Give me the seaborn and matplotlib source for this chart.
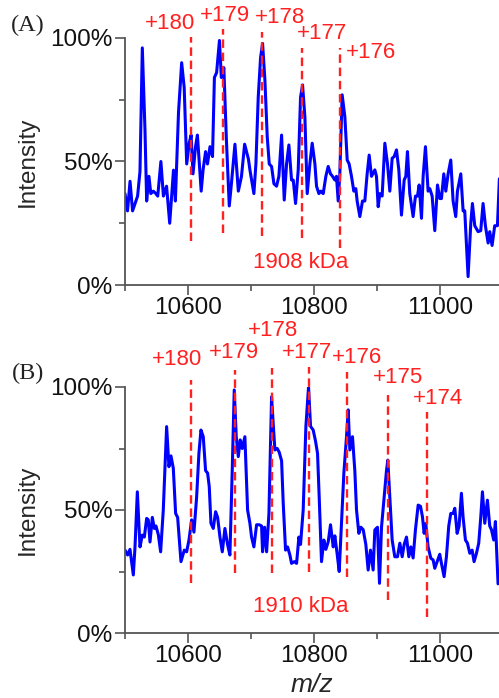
import numpy as np
import pandas as pd
import matplotlib
matplotlib.use("Agg")
import matplotlib.pyplot as plt
import seaborn as sns
from matplotlib.ticker import MultipleLocator, FuncFormatter

# ---------------- data ----------------
mz_a = [10500, 10504, 10508, 10512, 10516, 10520, 10523.8, 10527.5, 10531.7, 10534.4,
        10538, 10541, 10545, 10549, 10552, 10557, 10561, 10566, 10571, 10577,
        10580, 10585, 10590, 10594, 10598, 10602, 10605, 10608, 10612, 10615,
        10621, 10624, 10628, 10631, 10635, 10639, 10642, 10645.5, 10650, 10653,
        10657, 10661, 10665.6, 10669, 10674.6, 10680, 10685, 10690, 10696,
        10698.4, 10704.7, 10707.9, 10711.6, 10715.3, 10718.5, 10722.2, 10725.9, 10729.1,
        10732.8, 10736.5, 10740.7, 10744.4, 10748.7, 10752.9, 10756.6, 10760.3, 10764.5,
        10767.2, 10770.9, 10775.1, 10778.8, 10782.0, 10785.7, 10789.4, 10793.6, 10797.3,
        10801.6, 10804.2, 10807.9, 10811.1, 10814.8, 10819.0, 10822.7, 10826.4, 10829.6,
        10833.3, 10835.9, 10838.6, 10841.2, 10844.9, 10849.2, 10852.9, 10856.0, 10859.7,
        10863.4, 10866.6, 10868.7, 10873.0, 10877.2, 10880.9, 10884.6, 10887.8, 10891.5,
        10896.8, 10899.4, 10902.1, 10904.7, 10908.4, 10912.7, 10916.9, 10920.6, 10924.3,
        10927.5, 10931.2, 10934.9, 10939.1, 10943.4, 10946.0, 10948.6, 10952.3, 10957.6,
        10961.3, 10964.5, 10967.2, 10970.9, 10973.5, 10977.2, 10981.4, 10984.1, 10987.8,
        10992.0, 10996.3, 11000.0, 11002.6, 11006.3, 11009.5, 11013.2, 11017.4, 11021.1,
        11025.3, 11028.0, 11033.3, 11037.0, 11039.6, 11044.9, 11049.2, 11051.8, 11055.5,
        11060.8, 11065.0, 11068.7, 11072.4, 11076.7, 11079.3, 11083.0, 11087.2, 11091.5,
        11094.6]
int_a = [37, 30, 42, 30, 33, 36, 46, 96, 63, 34,
         44, 37, 38, 37, 36, 50, 36, 40, 25, 46.5,
         34, 70, 90, 80, 49, 57.5, 60.7, 45, 56, 60.7,
         38, 46.6, 54, 49, 56, 52, 84, 86, 99, 84,
         88, 59, 32, 41, 57, 38, 44, 57, 51,
         46.6, 37, 49, 76, 92, 97.8, 83, 60, 49,
         48, 41, 40, 44, 60.7, 34.4, 49, 56.7, 42.5,
         42.5, 33, 46.6, 76, 81, 68, 37, 49, 57.4,
         49, 40, 37, 38, 37, 44, 48, 45, 44,
         42.5, 44, 34, 45, 77, 68, 50.6, 49, 44,
         38, 39, 34, 27.7, 34, 34, 45, 52.6, 44,
         46.6, 44, 31.7, 37, 36, 57.4, 49, 38, 51.3,
         52, 54.7, 46.6, 28.3, 42.5, 44, 54, 37, 27.7,
         36, 36, 40.5, 27, 44, 56, 38, 39, 36,
         22, 40.5, 35, 35, 45, 38, 45, 50.6, 34,
         27.7, 38, 45, 30, 30, 3.4, 25, 33, 24,
         21.6, 22, 33, 24, 17, 21.6, 16, 24, 24,
         43]

mz_b = [10500, 10504.2, 10507.9, 10513.2, 10515.9, 10519.6, 10523.8, 10527.5, 10530.7, 10534.4,
        10537.0, 10539.7, 10543.4, 10546.6, 10549.2, 10552.9, 10556.6, 10560.8, 10566.1, 10569.8,
        10573.0, 10576.7, 10580.4, 10583.6, 10588.9, 10594.2, 10597.9, 10601.6, 10605.8, 10609.5,
        10613.7, 10617.4, 10620.6, 10624.3, 10628.0, 10631.2, 10633.8, 10636.5, 10640.2, 10643.9,
        10647.1, 10650.8, 10654.5, 10658.7, 10662.9, 10666.6, 10670.3, 10673.5, 10676.7, 10679.9,
        10683.0, 10686.2, 10690.4, 10694.7,
        10698.4, 10701.0, 10704.7, 10709.0, 10713.2, 10716.9, 10718.5, 10721.7, 10724.9, 10728.6,
        10732.8, 10735.4, 10738.1, 10741.8, 10744.9, 10748.7, 10751.3, 10755.0, 10758.2, 10761.9,
        10764.5, 10768.8, 10772.5, 10776.2, 10778.8, 10783.0, 10787.3, 10791.5, 10794.7, 10798.9,
        10802.6, 10805.8, 10808.4, 10812.1, 10815.8, 10819.0, 10822.7, 10826.4, 10830.7, 10833.3,
        10837.0, 10840.2, 10843.9, 10847.6, 10851.8, 10854.5, 10857.1, 10861.3, 10865.0, 10867.7,
        10871.4, 10874.6, 10878.3, 10882.5, 10886.2, 10889.9, 10894.1,
        10896.8, 10901.0, 10904.2, 10907.4, 10911.6, 10915.3, 10917.4, 10920.6, 10924.3, 10928.5,
        10932.8, 10936.5, 10940.2, 10943.4, 10947.1, 10950.8, 10954.0, 10957.6, 10961.3, 10965.6,
        10969.3, 10972.4, 10975.1, 10977.7, 10981.4, 10985.7, 10989.4, 10992.0, 10995.7, 10999.9,
        11002.6, 11006.8, 11010.5, 11014.2, 11017.4, 11021.1, 11023.8, 11027.5, 11030.6, 11034.3,
        11037.0, 11040.7, 11043.9, 11047.6, 11051.3, 11054.4, 11058.2, 11061.8, 11065.0, 11067.7,
        11071.4, 11075.6, 11079.3, 11082.0, 11085.6, 11088.3, 11092.5]
int_b = [33.7, 31.7, 34, 23.6, 35, 57.4, 35, 39.8, 39, 46.6,
         46, 37, 47, 42.5, 43.5, 40, 33, 50, 83.9, 67.6,
         72, 67, 48.6, 47, 29, 33.7, 33, 37.8, 46, 41,
         55, 73, 82.5, 79.8, 66, 65, 59.5, 44.6, 42.5, 49.3,
         47, 39, 33, 42.5, 36, 31.7, 66, 98.8, 79.8, 71.7,
         78.5, 75, 79.8, 50,
         44.6, 39, 35, 44, 44, 43.5, 33, 43, 33, 48.6,
         96, 85, 74.4, 75, 73.5, 70, 52.7, 33.7, 35, 31.7,
         28.3, 29, 28.3, 39, 36, 50, 84, 100, 84, 82.5,
         78, 73, 55.4, 29, 37.8, 34, 37, 44, 35, 39.5,
         32, 25, 44.6, 65, 79.8, 90.7, 74.4, 79.8, 66, 50,
         40.5, 43, 42, 36, 25.6, 33.7, 25.6,
         41.9, 43, 20.2, 43, 55.4, 66, 70.3, 55.4, 37.8, 31,
         31, 36.5, 31, 36, 39, 31, 35, 30.5, 42, 52,
         51.5, 47.3, 40.5, 44.5, 35, 30.4, 29.7, 26.3, 29, 32,
         28.3, 22.9, 31, 43.5, 48.6, 48.6, 50.7, 40.5, 43.5, 56.8,
         47, 37.8, 36.5, 32.4, 33.7, 29, 32.4, 36.5, 47, 57.4,
         44.6, 54, 43.5, 42, 37.8, 45.3, 20]

# charge-state annotations
charges_a = ["+180", "+179", "+178", "+177", "+176"]
lines_a = [10605, 10655, 10718, 10781, 10842]
line_lo_a = [18, 21, 20, 19, 15]
line_hi_a = [100.4, 103.6, 102.4, 96, 96]
label_x_a = [10571, 10659, 10746, 10813, 10890]
label_y_a = [106, 109, 108.5, 102, 94]
mass_a = "1908 kDa"

charges_b = ["+180", "+179", "+178", "+177", "+176", "+175", "+174"]
lines_b = [10605, 10675, 10734, 10793, 10853, 10917, 10979]
line_lo_b = [20.3, 24.4, 24.4, 24.8, 22.8, 13.4, 6.5]
line_hi_b = [102.8, 107, 107.7, 108, 106, 96.7, 89.8]
label_x_b = [10582, 10673, 10735, 10789, 10869, 10933, 10997]
label_y_b = [111, 114, 123, 114, 112, 103.7, 95.5]
mass_b = "1910 kDa"

panel_labels = ["(A)", "(B)"]
xticks = [10600, 10800, 11000]
yticks = [0, 50, 100]

# ---------------- plotting ----------------
sns.set_style("ticks")
plt.rcParams["font.family"] = ["Liberation Sans", "DejaVu Sans"]

fig = plt.figure(figsize=(4.99, 6.98), dpi=100)
W, H = 499, 698
x0 = 125 / W
ax_a = fig.add_axes([x0, 1 - 285 / H, 1 - x0, (285 - 38) / H])
ax_b = fig.add_axes([x0, 1 - 633 / H, 1 - x0, (633 - 387) / H])

red = "#FF2020"
panels = [
    (ax_a, mz_a, int_a, charges_a, lines_a, line_lo_a, line_hi_a, label_x_a, label_y_a, mass_a, 9.3),
    (ax_b, mz_b, int_b, charges_b, lines_b, line_lo_b, line_hi_b, label_x_b, label_y_b, mass_b, 10.6),
]
for i, (ax, mz, inten, ch, lx, lo, hi, tx, ty, mass, my) in enumerate(panels):
    df = pd.DataFrame({"mz": mz, "intensity": inten})
    sns.lineplot(data=df, x="mz", y="intensity", ax=ax, color="#0000FF",
                 linewidth=2.2, sort=False, estimator=None, solid_joinstyle="round")
    for xv, l, h in zip(lx, lo, hi):
        ax.plot([xv, xv], [l, h], color=red, lw=1.7, dashes=(3.6, 2.0),
                clip_on=False, zorder=3)
    for t, xv, yv in zip(ch, tx, ty):
        ax.text(xv, yv, t, color=red, fontsize=16, ha="center", va="center",
                clip_on=False)
    ax.text(10779, my, mass, color=red, fontsize=16, ha="center", va="center")

    ax.set_xlim(10500, 11094)
    ax.set_ylim(0, 100)
    ax.set_xticks(xticks)
    ax.xaxis.set_minor_locator(MultipleLocator(100))
    ax.set_yticks(yticks)
    ax.yaxis.set_minor_locator(MultipleLocator(25))
    ax.yaxis.set_major_formatter(FuncFormatter(lambda v, p: f"{int(v)}%"))
    ax.tick_params(axis="both", which="major", length=7, width=1.2, color="#555555",
                   labelsize=17.5, pad=2, labelcolor="#111111")
    ax.tick_params(axis="both", which="minor", length=4, width=1.2, color="#555555")
    for s in ["top", "right"]:
        ax.spines[s].set_visible(False)
    for s in ["left", "bottom"]:
        ax.spines[s].set_color("#555555")
        ax.spines[s].set_linewidth(1.3)
    ax.set_ylabel("Intensity", fontsize=17.5, labelpad=8)
    ax.set_xlabel("")
    fig.text(28 / W, 1 - (25 if i == 0 else 373) / H, panel_labels[i],
             family="Liberation Serif", fontsize=17.5, ha="center", va="center",
             color="#222222")

ax_b.set_xlabel("m/z", fontsize=19, style="italic", labelpad=4)

fig.savefig("out.png", dpi=100)
